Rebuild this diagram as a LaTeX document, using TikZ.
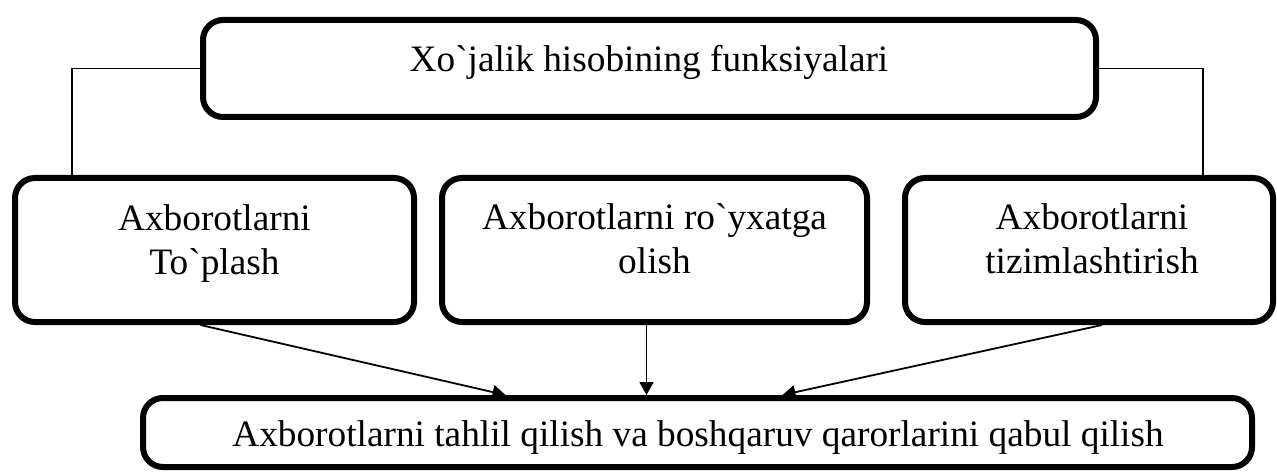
\documentclass[tikz,border=0pt]{standalone}
\usepackage{fontspec}
\newfontfamily\tnr{Liberation Serif}
\usetikzlibrary{arrows.meta}
\begin{document}
\begin{tikzpicture}[x=1pt,y=-1pt,
  box/.style={draw,line width=6pt,rounded corners=20pt,rectangle,inner sep=0pt},
  lbl/.style={font=\tnr\fontsize{37.3}{44}\selectfont,align=center,inner sep=0pt,anchor=base},
  link/.style={line width=1.3pt},
  flow/.style={line width=1.8pt,-{Triangle[length=13pt,width=14pt]}}]
\useasboundingbox (0,0) rectangle (1277,473);
\node[box,minimum width=893pt,minimum height=97pt] (top) at (649.5,68.5) {};
\node[box,minimum width=399pt,minimum height=144pt] (b1) at (214.5,250) {};
\node[box,minimum width=425pt,minimum height=144pt] (b2) at (654.5,250) {};
\node[box,minimum width=368pt,minimum height=144pt] (b3) at (1089,250) {};
\node[box,minimum width=1109pt,minimum height=69pt] (b4) at (697.5,432.5) {};
\node[lbl] (t0) at (649,72) {Xo`jalik hisobining funksiyalari};
\node[lbl] (t1) at (214.5,274) {Axborotlarni\\To`plash};
\node[lbl] (t2) at (654.5,273) {Axborotlarni ro`yxatga\\olish};
\node[lbl] (t3) at (1092,273) {Axborotlarni\\tizimlashtirish};
\node[lbl] (t4) at (698,446) {Axborotlarni tahlil qilish va boshqaruv qarorlarini qabul qilish};
\coordinate (cl) at (72,68.5);
\coordinate (cr) at (1203,68.5);
\draw[link] (top.west) -- (cl) -- (cl |- b1.north);
\draw[link] (top.east) -- (cr) -- (cr |- b3.north);
\draw[flow] ([xshift=-14pt]b1.south) -- ([xshift=-192pt]b4.north);
\draw[flow] ([xshift=-8pt]b2.south) -- ([xshift=-51pt]b4.north);
\draw[flow] ([xshift=13pt]b3.south) -- ([xshift=85pt]b4.north);
\end{tikzpicture}
\end{document}
